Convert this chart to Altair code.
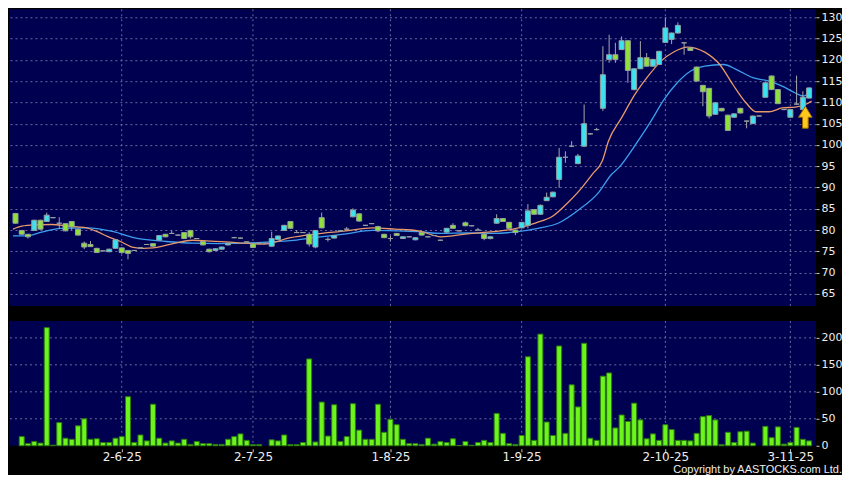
import altair as alt
import pandas as pd

# ---------------- data ----------------
opens = [83.9, 79.9, 79.0, 79.9, 82.3, 82.0, 82.9, 81.6, 81.5, 82.0,
         80.2, 76.9, 76.6, 75.7, 75.1, 74.9, 75.7, 75.8, 75.2, 75.2,
         75.8, 76.6, 76.8, 77.6, 79.0, 79.2, 78.8, 79.4, 79.9, 78.0,
         77.3, 75.5, 75.2, 75.5, 76.5, 78.2, 78.1, 77.2, 76.8, 76.9,
         76.9, 76.2, 77.8, 79.9, 82.0, 79.4, 79.4, 79.0, 76.0, 82.9,
         77.8, 78.1, 79.8, 80.2, 83.1, 83.8, 81.1, 81.5, 80.8, 79.0,
         78.0, 79.2, 78.0, 78.4, 77.7, 79.4, 78.4, 78.7, 77.6, 79.5,
         81.1, 79.8, 81.7, 81.0, 80.0, 79.0, 78.0, 81.6, 82.7, 81.8,
         80.0, 80.5, 81.1, 84.8, 83.7, 86.9, 87.8, 91.9, 97.1, 99.7,
         95.6, 99.7, 102.6, 103.6, 108.6, 120.1, 121.2, 122.4, 124.5, 113.0,
         117.9, 120.5, 118.5, 118.9, 124.1, 124.8, 126.3, 124.0, 122.8, 118.3,
         114.0, 113.3, 107.2, 108.6, 107.0, 106.5, 108.6, 105.6, 105.0, 106.8,
         111.2, 116.2, 113.0, 108.3, 106.5, 109.6, 108.3, 111.0]
closes = [81.6, 79.0, 78.4, 82.3, 80.2, 83.5, 82.9, 81.6, 79.8, 80.7,
          78.8, 76.0, 76.1, 74.7, 75.1, 75.5, 77.7, 74.7, 74.5, 75.2,
          75.8, 76.6, 76.2, 78.7, 78.4, 79.2, 78.8, 78.0, 78.4, 78.0,
          76.5, 74.9, 75.6, 76.0, 76.9, 78.2, 78.1, 77.2, 75.9, 76.9,
          76.9, 78.0, 78.6, 81.1, 80.4, 79.4, 79.4, 76.7, 79.9, 80.5,
          77.8, 78.7, 79.8, 80.2, 84.7, 82.1, 81.1, 81.5, 79.8, 78.2,
          78.0, 78.7, 78.4, 78.4, 78.2, 78.8, 78.4, 78.7, 77.6, 80.4,
          80.4, 79.8, 81.0, 81.0, 80.0, 78.0, 78.4, 82.7, 82.0, 80.4,
          79.4, 81.8, 84.5, 83.7, 85.8, 87.7, 88.9, 97.1, 97.1, 99.7,
          97.4, 105.0, 102.6, 103.6, 116.5, 121.2, 120.1, 124.5, 117.5, 117.9,
          120.5, 118.5, 120.1, 122.0, 127.5, 126.3, 128.1, 124.0, 122.2, 115.0,
          112.5, 106.8, 109.9, 108.0, 103.4, 107.3, 107.5, 105.6, 106.8, 106.8,
          114.6, 113.0, 109.7, 108.3, 108.3, 109.6, 111.2, 113.4]
highs = [84.0, 80.0, 79.1, 82.4, 82.4, 84.1, 83.0, 83.0, 81.6, 82.1,
         80.3, 77.3, 77.4, 75.8, 75.2, 75.6, 77.8, 75.9, 75.3, 75.3,
         75.9, 76.7, 76.9, 78.8, 79.1, 79.9, 78.9, 79.5, 80.0, 78.1,
         77.4, 75.6, 75.7, 76.1, 77.0, 78.4, 78.2, 77.3, 76.9, 77.0,
         77.0, 79.6, 78.7, 81.2, 82.1, 80.0, 79.5, 79.5, 80.0, 84.1,
         78.3, 78.8, 79.9, 80.7, 85.1, 83.9, 81.2, 81.6, 81.0, 79.1,
         78.6, 79.3, 78.5, 78.5, 78.3, 79.5, 78.5, 78.8, 77.7, 80.5,
         81.6, 79.9, 82.0, 81.1, 80.5, 79.4, 78.5, 83.7, 82.8, 81.9,
         80.1, 81.9, 86.1, 84.9, 86.0, 88.8, 89.0, 99.3, 98.5, 100.9,
         97.9, 109.5, 102.8, 104.0, 123.2, 125.9, 124.0, 125.5, 124.6, 118.0,
         124.4, 121.6, 120.2, 122.1, 129.9, 126.4, 128.8, 124.2, 122.9, 118.4,
         114.1, 113.4, 110.0, 108.7, 107.1, 107.4, 108.7, 105.7, 106.9, 106.9,
         114.7, 116.3, 113.1, 108.4, 108.4, 116.3, 112.6, 113.5]
lows = [81.5, 78.9, 78.0, 79.8, 80.1, 81.9, 82.8, 80.3, 79.7, 80.0,
        78.7, 75.5, 76.0, 74.6, 75.0, 74.8, 75.6, 74.4, 73.1, 75.1,
        75.7, 76.5, 76.1, 77.5, 78.3, 79.1, 78.7, 77.9, 78.0, 77.9,
        76.4, 74.7, 75.1, 75.4, 76.4, 78.1, 78.0, 77.1, 75.8, 76.8,
        76.8, 76.0, 77.7, 79.8, 80.3, 79.3, 79.3, 76.1, 75.7, 80.4,
        77.3, 78.0, 79.7, 80.1, 83.0, 82.0, 81.0, 81.4, 79.5, 78.1,
        77.3, 78.6, 77.9, 78.3, 77.6, 78.7, 78.3, 78.6, 77.5, 79.4,
        80.3, 79.7, 80.9, 80.9, 79.9, 77.6, 77.8, 81.5, 81.9, 80.3,
        78.8, 80.4, 80.4, 83.6, 83.6, 86.8, 87.7, 89.9, 95.8, 99.5,
        95.5, 99.5, 102.4, 103.4, 108.0, 119.3, 119.3, 122.3, 114.6, 112.8,
        117.8, 118.4, 118.4, 118.8, 124.0, 123.7, 126.2, 121.2, 122.1, 114.9,
        109.1, 106.2, 107.1, 107.9, 103.3, 106.4, 107.4, 103.9, 104.9, 106.7,
        111.1, 112.9, 109.6, 108.2, 106.4, 109.4, 108.2, 110.9]
volumes = [0, 17, 4, 8, 5, 219, 1, 43, 14, 12,
           37, 50, 12, 13, 6, 6, 14, 17, 91, 6,
           20, 9, 77, 14, 5, 9, 5, 12, 2.5, 8,
           4, 4, 2.5, 2.5, 12, 17, 22, 10, 2, 2,
           0, 11, 9, 20, 2, 2, 6, 161, 7, 81,
           18, 76, 8, 17, 78, 29, 12, 12, 77, 25,
           49, 39, 12, 4, 4, 2.5, 14, 3, 8, 6,
           13, 0.5, 8, 1, 6, 10, 6, 60, 23, 4,
           2.5, 19, 165, 10, 207, 44, 19, 185, 23, 113,
           72, 190, 14, 10, 129, 135, 33, 57, 45, 79,
           48, 13, 22, 10, 39, 30, 10, 10, 9, 23,
           54, 56, 48, 2, 25, 6, 26, 27, 5, 0,
           36, 15, 35, 3, 6, 34, 12, 9]

# moving averages, read at sample positions (candle index, price)
ma_fast_at = [-0.4, 1.0, 3.1, 5.8, 8.4, 11.0, 13.1, 14.7, 16.8, 18.9,
              20.4, 22.0, 25.2, 28.3, 31.4, 35.6, 39.8, 44.0, 47.7, 52.9,
              57.1, 60.8, 64.5, 68.1, 72.3, 76.5, 79.6, 83.3, 86.0, 88.1,
              90.2, 92.3, 93.9, 94.9, 97.0, 99.1, 101.2, 103.3, 105.4, 107.5,
              110.3, 112.7, 114.8, 116.9, 118.5, 120.6, 122.7, 124.8, 126.4, 127.4]
ma_fast = [80.2, 80.9, 81.2, 81.3, 80.9, 80.6, 79.6, 78.5, 77.3, 75.9,
           75.7, 75.8, 76.8, 77.6, 77.4, 77.0, 76.7, 78.2, 79.0, 79.8,
           80.5, 80.2, 79.8, 78.4, 79.1, 79.6, 80.2, 81.7, 83.3, 86.0,
           89.2, 93.1, 96.2, 100.9, 106.4, 111.8, 116.1, 119.7, 121.9, 123.0,
           121.8, 118.9, 114.2, 109.9, 107.8, 107.8, 108.7, 108.9, 109.5, 110.3]
ma_slow_at = [-0.4, 2.0, 4.2, 7.3, 11.5, 15.7, 18.9, 24.1, 28.3, 32.5,
              36.7, 40.9, 44.0, 47.7, 52.9, 57.1, 60.8, 64.5, 68.1, 72.3,
              76.5, 79.7, 83.6, 87.0, 90.2, 93.3, 95.4, 96.5, 99.6, 101.7,
              103.8, 105.9, 108.0, 110.3, 113.3, 115.4, 118.0, 120.6, 122.7, 124.8,
              126.1, 127.4]
ma_slow = [78.6, 78.7, 79.5, 80.4, 80.5, 79.6, 78.2, 77.3, 76.9, 76.8,
           76.9, 77.2, 77.5, 78.2, 79.1, 79.9, 79.8, 79.6, 79.2, 79.3,
           79.2, 79.5, 80.4, 81.7, 84.8, 88.8, 93.1, 94.6, 100.9, 105.6,
           110.7, 114.6, 117.3, 118.5, 118.9, 117.7, 115.8, 115.0, 113.8, 112.2,
           111.5, 112.6]

tick_at = [17, 38, 60, 81, 104, 124]
tick_labels = ["2-6-25", "2-7-25", "1-8-25", "1-9-25", "2-10-25", "3-11-25"]
price_ticks = [65, 70, 75, 80, 85, 90, 95, 100, 105, 110, 115, 120, 125, 130]
volume_ticks = [0, 50, 100, 150, 200]
arrow_at = [126.4]
arrow_price = [106.5]
copyright_text = "Copyright by AASTOCKS.com Ltd."

# ---------------- styling ----------------
NAVY = "#000050"
GRID = "#6a6a9c"
CYAN = "#3be3f0"
DOWN_GREEN = "#8fe03a"
VOL_GREEN = "#6cf41c"
ORANGE = "#e89a6a"
BLUE = "#3d9ef0"
FONT = "DejaVu Sans, sans-serif"
TITLE_FONT = "Liberation Sans, sans-serif"
ARROW = "M0,-1 L0.62,0 L0.26,0 L0.26,1 L-0.26,1 L-0.26,0 L-0.62,0 Z"
PLOT_W = 808

kind = ["up" if c > o else ("down" if c < o else "flat") for o, c in zip(opens, closes)]
candles = pd.DataFrame({
    "i": list(range(len(opens))), "open": opens, "close": closes,
    "high": highs, "low": lows, "vol": volumes, "kind": kind,
})
candles["body_lo"] = candles[["open", "close"]].min(axis=1)
candles["body_hi"] = candles[["open", "close"]].max(axis=1)

fast_df = pd.DataFrame({"i": ma_fast_at, "v": ma_fast})
slow_df = pd.DataFrame({"i": ma_slow_at, "v": ma_slow})
tick_df = pd.DataFrame({"t": tick_at})
arrow_df = pd.DataFrame({"i": arrow_at, "p": arrow_price})

x_scale = alt.Scale(domain=[-0.24, 127.31], nice=False, zero=False)
p_scale = alt.Scale(domain=[62.16, 131.88], nice=False, zero=False)
v_scale = alt.Scale(domain=[0, 231.5], nice=False, zero=False)

p_axis = alt.Axis(orient="right", values=price_ticks, grid=True, gridColor=GRID,
                  gridDash=[2, 3], gridWidth=1, tickSize=3, labelPadding=2,
                  domain=False, title=None, labelFontSize=11)
v_axis = alt.Axis(orient="right", values=volume_ticks, grid=False, tickSize=3,
                  labelPadding=2, domain=False, title=None, labelFontSize=11)

expr = "''"
for t, lab in reversed(list(zip(tick_at, tick_labels))):
    expr = f"datum.value == {t} ? '{lab}' : {expr}"
x_axis = alt.Axis(values=tick_at, labelExpr=expr, grid=False, tickSize=3, offset=3,
                  labelPadding=0, domain=False, title=None, labelFontSize=12,
                  labelFlush=False)

# ---------------- price panel ----------------
vgrid_p = alt.Chart(tick_df).mark_rule(color=GRID, strokeDash=[2, 3], strokeWidth=1).encode(
    x=alt.X("t:Q", scale=x_scale, axis=None))
hgrid_p = alt.Chart(pd.DataFrame({"v": price_ticks})).mark_rule(opacity=0).encode(
    y=alt.Y("v:Q", scale=p_scale, axis=p_axis))
line_fast = alt.Chart(fast_df).mark_line(color=ORANGE, strokeWidth=1.3, clip=True,
                                         interpolate="monotone").encode(
    x=alt.X("i:Q", scale=x_scale, axis=None), y=alt.Y("v:Q", scale=p_scale, axis=p_axis))
line_slow = alt.Chart(slow_df).mark_line(color=BLUE, strokeWidth=1.3, clip=True,
                                         interpolate="monotone").encode(
    x=alt.X("i:Q", scale=x_scale, axis=None), y=alt.Y("v:Q", scale=p_scale, axis=p_axis))
wicks = alt.Chart(candles).mark_rule(color="#a8a8a8", strokeWidth=1, clip=True).encode(
    x=alt.X("i:Q", scale=x_scale, axis=None),
    y=alt.Y("low:Q", scale=p_scale, axis=p_axis), y2="high:Q")
bodies = alt.Chart(candles).mark_bar(size=5, stroke="#95a0a0", strokeWidth=1, clip=True).encode(
    x=alt.X("i:Q", scale=x_scale, axis=None),
    y=alt.Y("body_lo:Q", scale=p_scale, axis=p_axis), y2="body_hi:Q",
    fill=alt.Fill("kind:N", scale=alt.Scale(domain=["up", "down", "flat"],
                                            range=[CYAN, DOWN_GREEN, "#a0a0a0"]), legend=None))
arrow = alt.Chart(arrow_df).mark_point(shape=ARROW, size=484, filled=True, fill="#ffc61e",
                                       stroke="#9a6a00", strokeWidth=1, opacity=1).encode(
    x=alt.X("i:Q", scale=x_scale, axis=None), y=alt.Y("p:Q", scale=p_scale, axis=p_axis))

price = alt.layer(vgrid_p, hgrid_p, line_slow, line_fast, wicks, bodies, arrow).properties(
    width=PLOT_W, height=297)

# ---------------- volume panel ----------------
vgrid_v = alt.Chart(tick_df).mark_rule(color=GRID, strokeDash=[2, 3], strokeWidth=1).encode(
    x=alt.X("t:Q", scale=x_scale, axis=x_axis))
hgrid_v = alt.Chart(pd.DataFrame({"v": volume_ticks[1:]})).mark_rule(
    color=GRID, strokeDash=[2, 3], strokeWidth=1).encode(
    y=alt.Y("v:Q", scale=v_scale, axis=v_axis))
vol_bars = alt.Chart(candles).transform_filter("datum.vol > 0").mark_bar(
    size=5, fill=VOL_GREEN, stroke="#2c7a10", strokeWidth=1).encode(
    x=alt.X("i:Q", scale=x_scale, axis=x_axis),
    y=alt.Y("vol:Q", scale=v_scale, axis=v_axis))

volume = alt.layer(vgrid_v, hgrid_v, vol_bars).properties(width=PLOT_W, height=125)

chart = alt.vconcat(price, volume, spacing=13).properties(
    padding={"left": 0, "top": 0, "right": 0, "bottom": 0},
    background="black",
    title=alt.TitleParams(copyright_text, orient="bottom", anchor="end", fontSize=11,
                          font=TITLE_FONT, fontWeight="normal", color="#eeeeee", offset=1),
).configure_view(fill=NAVY, strokeWidth=0).configure_axis(
    labelFont=FONT, labelColor="#eeeeee", tickColor="#c8c8c8", tickWidth=1)

chart.save("out.html", embed_options={"renderer": "svg", "actions": False})
